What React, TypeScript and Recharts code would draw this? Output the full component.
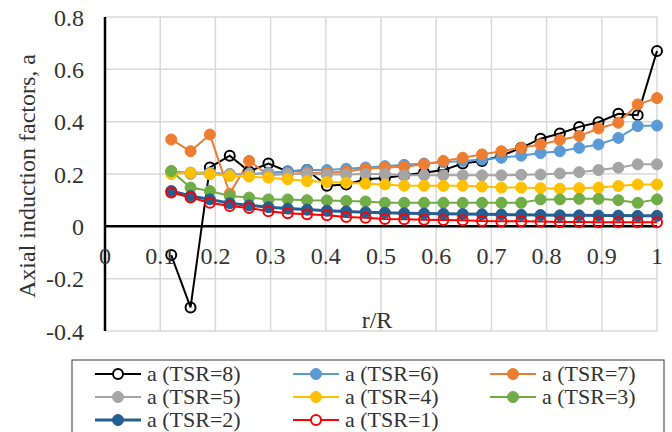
import React from 'react';
import { LineChart, Line, XAxis, YAxis, CartesianGrid, ReferenceLine } from 'recharts';

// r/R stations
const rR = [0.12, 0.155, 0.19, 0.226, 0.261, 0.296, 0.331, 0.366, 0.402, 0.437, 0.472, 0.507, 0.542,
  0.578, 0.613, 0.648, 0.683, 0.718, 0.754, 0.789, 0.824, 0.859, 0.894, 0.93, 0.965, 1.0];

const tsr8 = [-0.11, -0.31, 0.225, 0.27, 0.21, 0.24, 0.21, 0.215, 0.155, 0.16, 0.18, 0.185, 0.195,
  0.205, 0.215, 0.24, 0.25, 0.27, 0.3, 0.335, 0.355, 0.38, 0.398, 0.43, 0.425, 0.67];
const tsr6 = [0.21, 0.205, 0.205, 0.2, 0.2, 0.205, 0.21, 0.215, 0.215, 0.22, 0.225, 0.23, 0.235,
  0.24, 0.245, 0.25, 0.255, 0.262, 0.27, 0.28, 0.287, 0.3, 0.313, 0.338, 0.383, 0.385];
const tsr7 = [0.332, 0.287, 0.351, 0.125, 0.25, 0.195, 0.2, 0.205, 0.205, 0.21, 0.22, 0.225, 0.228,
  0.237, 0.25, 0.262, 0.275, 0.287, 0.3, 0.313, 0.33, 0.345, 0.374, 0.396, 0.466, 0.49];
const tsr5 = [0.21, 0.2, 0.2, 0.2, 0.2, 0.2, 0.2, 0.2, 0.198, 0.198, 0.2, 0.2, 0.195,
  0.195, 0.195, 0.195, 0.195, 0.195, 0.197, 0.198, 0.202, 0.207, 0.215, 0.224, 0.237, 0.237];
const tsr4 = [0.2, 0.205, 0.2, 0.192, 0.19, 0.186, 0.18, 0.173, 0.169, 0.167, 0.163, 0.16, 0.155,
  0.155, 0.155, 0.155, 0.152, 0.148, 0.148, 0.146, 0.144, 0.146, 0.148, 0.154, 0.16, 0.16];
const tsr3 = [0.211, 0.148, 0.135, 0.116, 0.11, 0.103, 0.103, 0.1, 0.099, 0.097, 0.095, 0.09, 0.09,
  0.09, 0.09, 0.09, 0.09, 0.09, 0.09, 0.103, 0.103, 0.105, 0.105, 0.1, 0.09, 0.103];
const tsr2 = [0.135, 0.116, 0.103, 0.088, 0.08, 0.073, 0.068, 0.064, 0.06, 0.057, 0.054, 0.052, 0.05,
  0.049, 0.048, 0.047, 0.046, 0.045, 0.044, 0.043, 0.042, 0.042, 0.041, 0.041, 0.04, 0.04];
const tsr1 = [0.129, 0.11, 0.09, 0.078, 0.07, 0.058, 0.05, 0.046, 0.042, 0.036, 0.033, 0.028, 0.027,
  0.025, 0.024, 0.023, 0.02, 0.019, 0.019, 0.018, 0.017, 0.017, 0.016, 0.016, 0.016, 0.016];

const xTicks = [0, 0.1, 0.2, 0.3, 0.4, 0.5, 0.6, 0.7, 0.8, 0.9, 1];
const yTicks = [-0.4, -0.2, 0, 0.2, 0.4, 0.6, 0.8];

const seriesDefs = [
  { key: 't8', name: 'a (TSR=8)', values: tsr8, color: '#000000', open: true, width: 2 },
  { key: 't6', name: 'a (TSR=6)', values: tsr6, color: '#5B9BD5', open: false, width: 2 },
  { key: 't7', name: 'a (TSR=7)', values: tsr7, color: '#ED7D31', open: false, width: 2 },
  { key: 't5', name: 'a (TSR=5)', values: tsr5, color: '#A5A5A5', open: false, width: 2 },
  { key: 't4', name: 'a (TSR=4)', values: tsr4, color: '#FFC000', open: false, width: 2 },
  { key: 't3', name: 'a (TSR=3)', values: tsr3, color: '#70AD47', open: false, width: 2 },
  { key: 't2', name: 'a (TSR=2)', values: tsr2, color: '#255E91', open: false, width: 3 },
  { key: 't1', name: 'a (TSR=1)', values: tsr1, color: '#FF0000', open: true, width: 2 },
];

const data = rR.map((r, i) => {
  const row: any = { r };
  seriesDefs.forEach((s) => { row[s.key] = s.values[i]; });
  return row;
});

const W = 672;
const H = 432;
const M_TOP = 17;
const M_RIGHT = 15;
const Y_AXIS_W = 105;
const X_AXIS_H = 101;
const PLOT_H = H - M_TOP - X_AXIS_H;
const PLOT_W = W - Y_AXIS_W - M_RIGHT;
const Y_MIN = -0.4;
const Y_MAX = 0.8;
const ZERO_Y = M_TOP + PLOT_H * (Y_MAX - 0) / (Y_MAX - Y_MIN);

const FONT = "'Liberation Serif', 'Times New Roman', serif";
const TXT = '#333333';

const fmt = (v: number) => String(Number(v.toFixed(1)));

const XTick = (props: any) => {
  const { x, payload } = props;
  return (
    <text x={x} y={ZERO_Y + 38} textAnchor="middle" fontFamily={FONT} fontSize={24} fill={TXT}>
      {fmt(payload.value)}
    </text>
  );
};

const Legend = () => {
  const colX = [95, 293, 490];
  const rowY = [374, 397, 420];
  return (
    <svg width={W} height={H} style={{ position: 'absolute', left: 0, top: 0, pointerEvents: 'none' }}>
      <rect x={72} y={360} width={592} height={90} fill="#fff" stroke="#595959" strokeWidth={1.2} />
      {seriesDefs.map((s, i) => {
        const cx = colX[i % 3];
        const cy = rowY[Math.floor(i / 3)];
        return (
          <g key={s.key}>
            <line x1={cx} x2={cx + 46} y1={cy} y2={cy} stroke={s.color} strokeWidth={s.width} />
            {s.open ? (
              <circle cx={cx + 23} cy={cy} r={5} fill="#fff" stroke={s.color} strokeWidth={2} />
            ) : (
              <circle cx={cx + 23} cy={cy} r={5.5} fill={s.color} stroke={s.color} strokeWidth={1} />
            )}
            <text x={cx + 52} y={cy + 7} fontFamily={FONT} fontSize={22} fill={TXT}>{s.name}</text>
          </g>
        );
      })}
    </svg>
  );
};

export default function App() {
  return (
    <div style={{ position: 'absolute', left: 0, top: 0, width: W, height: H, background: '#fff', overflow: 'hidden' }}>
      <LineChart width={W} height={H} data={data} margin={{ top: M_TOP, right: M_RIGHT, left: 0, bottom: 0 }}>
        <CartesianGrid stroke="#D9D9D9" strokeWidth={1.5} />
        <XAxis
          type="number"
          dataKey="r"
          domain={[0, 1]}
          ticks={xTicks}
          interval={0}
          height={X_AXIS_H}
          axisLine={false}
          tickLine={false}
          tick={<XTick />}
          label={{
            position: 'top',
            content: (p: any) => {
              const vb = p.viewBox || { x: Y_AXIS_W, y: M_TOP + PLOT_H, width: PLOT_W };
              return (
                <text x={vb.x + vb.width / 2 - 4} y={vb.y - 3} textAnchor="middle" fontFamily={FONT} fontSize={24} fill={TXT}>
                  r/R
                </text>
              );
            },
          }}
        />
        <YAxis
          type="number"
          domain={[Y_MIN, Y_MAX]}
          ticks={yTicks}
          interval={0}
          width={Y_AXIS_W}
          axisLine={{ stroke: '#000', strokeWidth: 2.5 }}
          tickLine={false}
          tickSize={0}
          tickMargin={21}
          tickFormatter={fmt}
          tick={{ fontFamily: FONT, fontSize: 24, fill: TXT }}
          label={{
            position: 'insideLeft',
            content: (p: any) => {
              const vb = p.viewBox || { x: 0, y: M_TOP, height: PLOT_H };
              const cx = 27;
              const cy = vb.y + vb.height / 2 + 2;
              return (
                <text x={cx} y={cy} transform={`rotate(-90 ${cx} ${cy})`} textAnchor="middle" dominantBaseline="central" fontFamily={FONT} fontSize={24} fill={TXT}>
                  Axial induction factors, a
                </text>
              );
            },
          }}
        />
        <ReferenceLine y={0} stroke="#000" strokeWidth={2.5} />
        {seriesDefs.map((s) => (
          <Line
            key={s.key}
            dataKey={s.key}
            name={s.name}
            stroke={s.color}
            strokeWidth={s.width}
            isAnimationActive={false}
            activeDot={false}
            dot={s.open
              ? { r: 5, fill: 'none', stroke: s.color, strokeWidth: 2 }
              : { r: 5.5, fill: s.color, stroke: s.color, strokeWidth: 1 }}
          />
        ))}
      </LineChart>
      <Legend />
    </div>
  );
}
